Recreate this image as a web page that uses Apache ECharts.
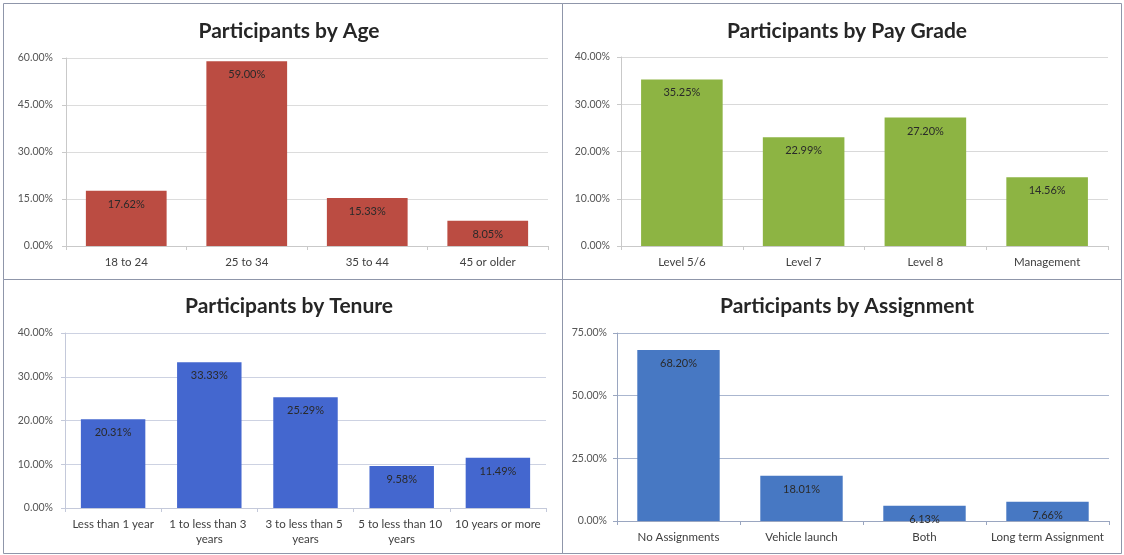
<!DOCTYPE html>
<html>
<head>
<meta charset="utf-8">
<script src="https://cdn.jsdelivr.net/npm/echarts@6/dist/echarts.min.js"></script>
<style>
  html, body { margin: 0; padding: 0; background: #ffffff; }
  #chart { width: 1124px; height: 555px; }
</style>
</head>
<body>
<div id="chart"></div>
<script>
// Survey breakdowns, in percent of participants
const ageCategories = ['18 to 24', '25 to 34', '35 to 44', '45 or older'];
const ageValues = [17.62, 59.00, 15.33, 8.05];
const ageTicks = [0, 15, 30, 45, 60];

const payCategories = ['Level 5/6', 'Level 7', 'Level 8', 'Management'];
const payValues = [35.25, 22.99, 27.20, 14.56];
const payTicks = [0, 10, 20, 30, 40];

const tenureCategories = ['Less than 1 year', '1 to less than 3 years', '3 to less than 5 years', '5 to less than 10 years', '10 years or more'];
const tenureValues = [20.31, 33.33, 25.29, 9.58, 11.49];
const tenureTicks = [0, 10, 20, 30, 40];

const assignmentCategories = ['No Assignments', 'Vehicle launch', 'Both', 'Long term Assignment'];
const assignmentValues = [68.20, 18.01, 6.13, 7.66];
const assignmentTicks = [0, 25, 50, 75];

const FONT = 'Lato, "Liberation Sans", sans-serif';
const pct = v => Number(v).toFixed(2) + '%';

const panels = [
  { title: 'Participants by Age', cats: ageCategories, vals: ageValues, ticks: ageTicks,
    color: '#bb4c42', grid: { left: 66, top: 58, width: 482, height: 188 },
    titleX: 284, titleY: 16, split: '#dcdcdc', axis: '#c9c9c9', yMargin: 13 },
  { title: 'Participants by Pay Grade', cats: payCategories, vals: payValues, ticks: payTicks,
    color: '#8db443', grid: { left: 621, top: 57, width: 487, height: 189 },
    titleX: 842, titleY: 16, split: '#d9d9d9', axis: '#c9c9c9', yMargin: 11 },
  { title: 'Participants by Tenure', cats: tenureCategories, vals: tenureValues, ticks: tenureTicks,
    color: '#4467cf', grid: { left: 65, top: 333, width: 481, height: 175 },
    titleX: 284, titleY: 291, split: '#cdd2e2', axis: '#c4c9da', yMargin: 12 },
  { title: 'Participants by Assignment', cats: assignmentCategories, vals: assignmentValues, ticks: assignmentTicks,
    color: '#4778c3', grid: { left: 617, top: 333, width: 492, height: 188 },
    titleX: 842, titleY: 291, split: '#aab6cf', axis: '#9aa6c0', yMargin: 10 }
];

const option = {
  backgroundColor: '#ffffff',
  animation: false,
  title: panels.map(p => ({
    text: p.title,
    left: p.titleX,
    top: p.titleY,
    textAlign: 'center',
    textStyle: { fontFamily: FONT, fontWeight: 'bold', fontSize: 21, color: '#262626' }
  })),
  grid: panels.map(p => Object.assign({ containLabel: false }, p.grid)),
  xAxis: panels.map((p, i) => ({
    type: 'category',
    gridIndex: i,
    data: p.cats,
    axisLine: { lineStyle: { color: p.axis } },
    axisTick: { show: true, length: 4, lineStyle: { color: p.axis } },
    axisLabel: {
      interval: 0, margin: 9, fontFamily: FONT, fontSize: 11.5, color: '#404040',
      lineHeight: 15, width: i === 2 ? 92 : 130, overflow: 'break'
    }
  })),
  yAxis: panels.map((p, i) => ({
    type: 'value',
    gridIndex: i,
    min: p.ticks[0],
    max: p.ticks[p.ticks.length - 1],
    interval: p.ticks[1] - p.ticks[0],
    axisLine: { show: true, lineStyle: { color: p.axis } },
    axisTick: { show: true, length: 4, lineStyle: { color: p.axis } },
    splitLine: { lineStyle: { color: p.split } },
    axisLabel: { margin: p.yMargin, fontFamily: FONT, fontSize: 10.5, color: '#555555', formatter: pct }
  })),
  series: panels.map((p, i) => ({
    type: 'bar',
    xAxisIndex: i,
    yAxisIndex: i,
    data: p.vals,
    barCategoryGap: '33%',
    itemStyle: { color: p.color },
    label: {
      show: true, position: 'insideTop', distance: 8,
      fontFamily: FONT, fontSize: 11, color: '#2a2a2a', formatter: o => pct(o.value)
    }
  })),
  graphic: [
    { x1: 3.5, y1: 3.5, x2: 562.5, y2: 279.5 },
    { x1: 562.5, y1: 3.5, x2: 1121.5, y2: 279.5 },
    { x1: 3.5, y1: 279.5, x2: 562.5, y2: 553.5 },
    { x1: 562.5, y1: 279.5, x2: 1121.5, y2: 553.5 }
  ].map(r => ({
    type: 'rect',
    silent: true,
    z: 100,
    shape: { x: r.x1, y: r.y1, width: r.x2 - r.x1, height: r.y2 - r.y1 },
    style: { fill: 'none', stroke: '#8f96aa', lineWidth: 1 }
  }))
};

const chart = echarts.init(document.getElementById('chart'), null, { renderer: 'canvas' });
chart.setOption(option);
</script>
</body>
</html>
